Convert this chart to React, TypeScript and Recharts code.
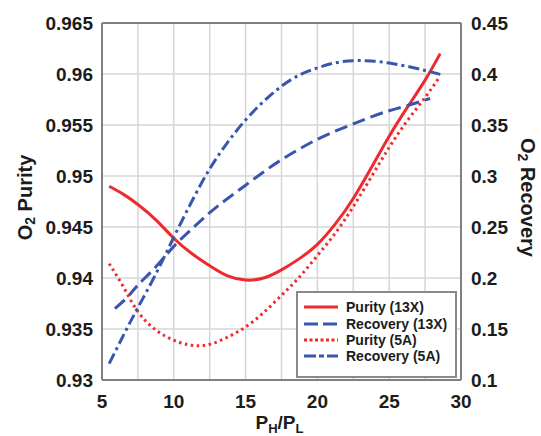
import React from "react";
import {
  LineChart,
  Line,
  XAxis,
  YAxis,
  CartesianGrid,
  ReferenceLine,
  Legend,
  Label,
} from "recharts";

const FONT = '"Liberation Sans", Arial, sans-serif';
const RED = "#ee2a2e";
const BLUE = "#3a56ac";
const TEXT = "#1c1c1c";

// axis ticks
const xTicks = [5, 7.5, 10, 12.5, 15, 17.5, 20, 22.5, 25, 27.5, 30];
const purityTicks = [0.93, 0.935, 0.94, 0.945, 0.95, 0.955, 0.96, 0.965];
const recoveryTicks = [0.1, 0.15, 0.2, 0.25, 0.3, 0.35, 0.4, 0.45];

// Purity (13X)
const purity13XX = [5.5, 6.5, 7.5, 8.75, 10, 11.25, 12.5, 13.75, 15, 16.25, 17.5, 18.75, 20, 21.25, 22.5, 23.75, 25, 26.25, 27.5, 28.55];
const purity13X = [0.949, 0.9482, 0.9472, 0.9457, 0.9439, 0.9424, 0.9412, 0.9402, 0.9398, 0.94, 0.9408, 0.9419, 0.9433, 0.9453, 0.9478, 0.9508, 0.9539, 0.9567, 0.9594, 0.962];

// Recovery (13X)
const recovery13XX = [5.9, 6.75, 7.5, 8.75, 10, 11.25, 12.5, 13.75, 15, 16.25, 17.5, 18.75, 20, 21.25, 22.5, 23.75, 25, 26.25, 27.85];
const recovery13X = [0.17, 0.181, 0.193, 0.211, 0.231, 0.248, 0.264, 0.278, 0.291, 0.304, 0.316, 0.3265, 0.336, 0.344, 0.351, 0.358, 0.364, 0.369, 0.376];

// Purity (5A)
const purity5AX = [5.5, 6.5, 7.5, 8.75, 10, 11.25, 12.5, 13.75, 15, 16.25, 17.5, 18.75, 20, 21.25, 22.5, 23.75, 25, 26.25, 27.5, 28.45];
const purity5A = [0.9414, 0.9391, 0.9367, 0.9349, 0.9339, 0.9334, 0.9335, 0.9342, 0.9352, 0.9366, 0.9383, 0.9401, 0.9422, 0.9444, 0.947, 0.9499, 0.9528, 0.9554, 0.9577, 0.9596];

// Recovery (5A)
const recovery5AX = [5.5, 6.5, 7.5, 8.75, 10, 11.25, 12.5, 13.75, 15, 16.25, 17.5, 18.75, 20, 21.25, 22.5, 23.75, 25, 26.25, 27.5, 28.56];
const recovery5A = [0.116, 0.144, 0.171, 0.204, 0.24, 0.275, 0.307, 0.333, 0.355, 0.373, 0.388, 0.399, 0.406, 0.411, 0.413, 0.4128, 0.4107, 0.4075, 0.4035, 0.3996];

const legendLabels = ["Purity (13X)", "Recovery (13X)", "Purity (5A)", "Recovery (5A)"];

const zip = (xs: number[], ys: number[]) => xs.map((x, i) => ({ x, y: ys[i] }));

const series = [
  { name: legendLabels[0], data: zip(purity13XX, purity13X), axis: "left", color: RED, dash: undefined, key: "p13" },
  { name: legendLabels[1], data: zip(recovery13XX, recovery13X), axis: "right", color: BLUE, dash: "13 6", key: "r13" },
  { name: legendLabels[2], data: zip(purity5AX, purity5A), axis: "left", color: RED, dash: "2.5 3.5", key: "p5" },
  { name: legendLabels[3], data: zip(recovery5AX, recovery5A), axis: "right", color: BLUE, dash: "11 4 3 4", key: "r5" },
];

const legendDash: Record<string, string | undefined> = {
  p13: undefined,
  r13: "14 5",
  p5: "3 2.5",
  r5: "12 3 5 3",
};

const tickStyle = { fill: TEXT, fontSize: 19, fontWeight: 700, fontFamily: FONT };

function renderLegend() {
  return (
    <div
      style={{
        border: "2px solid #8a8a8a",
        background: "#fff",
        padding: "6px 0 6px 6px",
        boxSizing: "border-box",
        width: 161,
        height: 87,
        fontFamily: FONT,
        whiteSpace: "nowrap",
      }}
    >
      {series.map((s) => (
        <div key={s.key} style={{ display: "flex", alignItems: "center", height: 16.4 }}>
          <svg width={34} height={8} style={{ marginRight: 8, flex: "none" }}>
            <line
              x1={0}
              y1={4}
              x2={34}
              y2={4}
              stroke={s.color}
              strokeWidth={3}
              strokeDasharray={legendDash[s.key]}
            />
          </svg>
          <span style={{ fontSize: 14, fontWeight: 700, color: TEXT, lineHeight: "16px", whiteSpace: "nowrap" }}>
            {s.name}
          </span>
        </div>
      ))}
    </div>
  );
}

function LeftTitle(props: any) {
  const vb = props.viewBox || { x: 0, y: 23, width: 102, height: 357 };
  const cx = vb.x + 25;
  const cy = vb.y + vb.height / 2 - 4;
  return (
    <text
      x={cx}
      y={cy}
      transform={`rotate(-90, ${cx}, ${cy})`}
      textAnchor="middle"
      dominantBaseline="central"
      fill={TEXT}
      fontSize={20}
      fontWeight={700}
      fontFamily={FONT}
    >
      <tspan>O</tspan>
      <tspan fontSize={14} dy={5}>2</tspan>
      <tspan dy={-5}> Purity</tspan>
    </text>
  );
}

function RightTitle(props: any) {
  const vb = props.viewBox || { x: 461, y: 23, width: 80, height: 357 };
  const cx = vb.x + 67;
  const cy = vb.y + vb.height / 2 - 4;
  return (
    <text
      x={cx}
      y={cy}
      transform={`rotate(90, ${cx}, ${cy})`}
      textAnchor="middle"
      dominantBaseline="central"
      fill={TEXT}
      fontSize={20}
      fontWeight={700}
      fontFamily={FONT}
    >
      <tspan>O</tspan>
      <tspan fontSize={14} dy={5}>2</tspan>
      <tspan dy={-5}> Recovery</tspan>
    </text>
  );
}

function BottomTitle(props: any) {
  const vb = props.viewBox || { x: 102, y: 380, width: 359, height: 56 };
  const cx = vb.x + vb.width / 2 - 2;
  const cy = vb.y + 49;
  return (
    <text x={cx} y={cy} textAnchor="middle" fill={TEXT} fontSize={19} fontWeight={700} fontFamily={FONT}>
      <tspan>P</tspan>
      <tspan fontSize={13} dy={4}>H</tspan>
      <tspan dy={-4}>/P</tspan>
      <tspan fontSize={13} dy={4}>L</tspan>
    </text>
  );
}

export default function App() {
  return (
    <div style={{ position: "absolute", left: 0, top: 0, width: 541, height: 436, background: "#fff" }}>
      <LineChart width={541} height={436} margin={{ top: 23, right: 0, bottom: 0, left: 0 }}>
        <CartesianGrid yAxisId="left" stroke="#d6d6d6" strokeWidth={1.5} />
        <XAxis
          type="number"
          dataKey="x"
          domain={[5, 30]}
          ticks={xTicks}
          interval={0}
          allowDataOverflow
          height={56}
          tickLine={false}
          tickSize={0}
          tickMargin={15}
          axisLine={{ stroke: "#808080", strokeWidth: 2 }}
          tick={tickStyle}
          tickFormatter={(v: number) => (v % 5 === 0 ? String(v) : "")}
        >
          <Label content={<BottomTitle />} />
        </XAxis>
        <YAxis
          yAxisId="left"
          domain={[0.93, 0.965]}
          ticks={purityTicks}
          interval={0}
          allowDataOverflow
          width={102}
          tickLine={false}
          tickSize={0}
          tickMargin={9}
          axisLine={{ stroke: "#808080", strokeWidth: 2 }}
          tick={tickStyle}
          tickFormatter={(v: number) => String(+v.toFixed(3))}
        >
          <Label content={<LeftTitle />} />
        </YAxis>
        <YAxis
          yAxisId="right"
          orientation="right"
          domain={[0.1, 0.45]}
          ticks={recoveryTicks}
          interval={0}
          allowDataOverflow
          width={80}
          tickLine={false}
          tickSize={0}
          tickMargin={10}
          axisLine={{ stroke: "#808080", strokeWidth: 2 }}
          tick={tickStyle}
          tickFormatter={(v: number) => String(+v.toFixed(2))}
        >
          <Label content={<RightTitle />} />
        </YAxis>
        <ReferenceLine yAxisId="left" y={0.965} stroke="#808080" strokeWidth={2} />
        {series.map((s) => (
          <Line
            key={s.key}
            yAxisId={s.axis}
            data={s.data}
            dataKey="y"
            name={s.name}
            type="natural"
            stroke={s.color}
            strokeWidth={3}
            strokeDasharray={s.dash}
            dot={false}
            activeDot={false}
            isAnimationActive={false}
          />
        ))}
        <Legend
          layout="vertical"
          align="center"
          verticalAlign="middle"
          content={renderLegend}
          wrapperStyle={{ left: 296, top: 291, width: 161, height: 87 }}
        />
      </LineChart>
    </div>
  );
}
